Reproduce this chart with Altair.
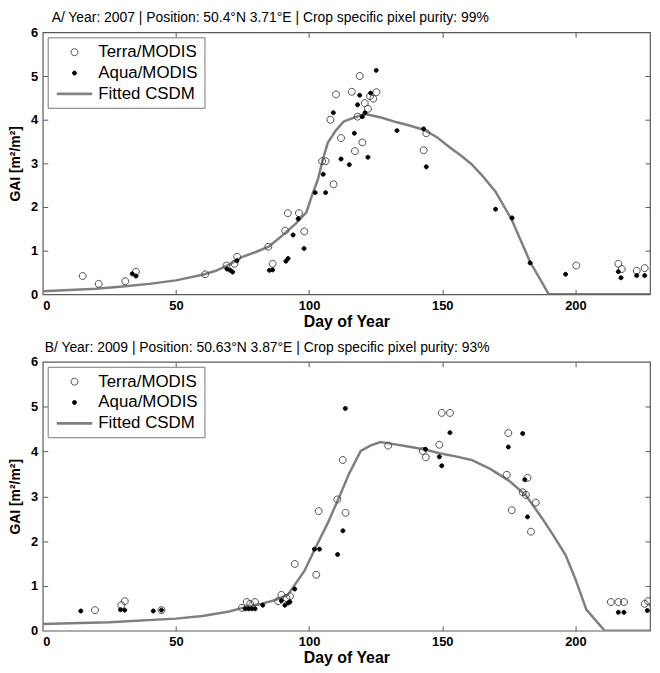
import altair as alt
import pandas as pd

SERIES = ["Terra/MODIS", "Aqua/MODIS", "Fitted CSDM"]

# ---------------- Panel A (2007) ----------------
a_title = "A/  Year: 2007 | Position: 50.4°N 3.71°E | Crop specific pixel purity: 99%"
a_terra_day = [15, 21, 31, 35, 61, 69, 72, 73, 84.7, 86.3,
               91, 92, 96.2, 98.2, 104.9, 106.2, 108, 109.2, 110.1, 112,
               116, 117.2, 118.2, 119, 120, 120.9, 122.1, 122.9, 124.1, 125.3,
               143, 144, 200.3, 216.1, 217.4, 223, 226]
a_terra_gai = [0.42, 0.24, 0.30, 0.52, 0.46, 0.66, 0.70, 0.86, 1.09, 0.70,
               1.46, 1.86, 1.86, 1.44, 3.05, 3.05, 4.0, 2.52, 4.58, 3.58,
               4.64, 3.28, 4.07, 5.0, 3.48, 4.38, 4.25, 4.54, 4.48, 4.63,
               3.30, 3.69, 0.66, 0.70, 0.58, 0.54, 0.60]
a_aqua_day = [33.6, 35.0, 69.2, 70.4, 71.3, 72.9, 85.1, 86.3, 91.3, 92.1,
              94, 95.9, 98.1, 102.3, 105.3, 106.2, 109.1, 112, 115.1, 117,
              118.2, 119, 120, 121, 122.1, 123.1, 125.2, 133, 143, 144,
              170, 176.2, 183, 196.3, 216.1, 217.1, 223, 226]
a_aqua_gai = [0.47, 0.42, 0.58, 0.55, 0.51, 0.77, 0.55, 0.56, 0.76, 0.82,
              1.36, 1.73, 1.05, 2.33, 2.75, 2.33, 4.16, 3.10, 2.97, 3.69,
              4.34, 4.56, 4.07, 4.16, 3.14, 4.61, 5.13, 3.75, 3.79, 2.92,
              1.95, 1.75, 0.72, 0.46, 0.52, 0.38, 0.43, 0.43]
a_fit_day = [0, 10, 20, 30, 40, 50, 60, 65, 70, 75,
             80, 85, 90, 95, 99, 101, 103.3, 105, 107, 110,
             113, 117, 121, 127, 133, 138, 143, 148, 153, 157,
             161, 165, 170, 176, 183, 190, 230]
a_fit_gai = [0.07, 0.10, 0.13, 0.18, 0.24, 0.32, 0.45, 0.54, 0.68, 0.86,
             0.97, 1.10, 1.35, 1.62, 1.88, 2.25, 2.63, 3.05, 3.47, 3.75,
             3.96, 4.05, 4.13, 4.05, 3.94, 3.86, 3.77, 3.60, 3.36, 3.18,
             2.98, 2.72, 2.35, 1.72, 0.74, 0.0, 0.0]

# ---------------- Panel B (2009) ----------------
b_title = "B/ Year: 2009 | Position: 50.63°N 3.87°E | Crop specific pixel purity: 93%"
b_terra_day = [19.6, 29.5, 30.8, 44.6, 74.8, 76.6, 77.9, 79.7, 88.4, 89.6,
               91.5, 92.8, 94.6, 102.7, 103.6, 110.6, 112.6, 113.7, 129.7, 142.7,
               143.8, 148.9, 149.8, 152.9, 174.2, 174.8, 176.1, 180.2, 181.4, 182,
               183.3, 185.1, 213.3, 216.1, 218.2, 226, 227.3, 229.1]
b_terra_gai = [0.46, 0.57, 0.66, 0.46, 0.51, 0.64, 0.60, 0.64, 0.66, 0.80,
               0.73, 0.77, 1.49, 1.25, 2.67, 2.93, 3.81, 2.63, 4.13, 4.01,
               3.87, 4.15, 4.86, 4.86, 3.48, 4.41, 2.69, 3.09, 3.03, 3.41,
               2.21, 2.86, 0.64, 0.64, 0.64, 0.60, 0.66, 0.58]
b_aqua_day = [14.3, 29.2, 30.8, 41.5, 44.6, 76, 77.3, 78.5, 79.7, 82.6,
              89.6, 90.9, 92.1, 92.8, 94.6, 102, 103.9, 110.7, 112.7, 113.6,
              143.7, 148.9, 149.8, 152.9, 174.8, 180.2, 181, 182,
              216.1, 218.2, 227]
b_aqua_gai = [0.44, 0.47, 0.46, 0.44, 0.46, 0.49, 0.49, 0.49, 0.49, 0.57,
              0.67, 0.57, 0.62, 0.64, 0.93, 1.82, 1.82, 1.70, 2.23, 4.96,
              4.05, 3.88, 3.68, 4.42, 4.10, 4.40, 3.37, 2.54,
              0.41, 0.41, 0.45]
b_fit_day = [0, 25, 50, 60, 70, 75, 82, 87, 92, 98.3,
             102, 107, 111, 115, 119.4, 123, 126.8, 130, 136, 143,
             149, 155, 161, 168, 175, 181.4, 187.6, 192, 196.3, 200,
             204.1, 211, 230]
b_fit_gai = [0.15, 0.19, 0.27, 0.33, 0.43, 0.51, 0.60, 0.68, 0.80, 1.34,
             1.80, 2.40, 2.94, 3.50, 4.01, 4.13, 4.21, 4.18, 4.12, 4.05,
             3.96, 3.89, 3.81, 3.61, 3.35, 3.02, 2.50, 2.10, 1.69, 1.15,
             0.47, 0.0, 0.0]

x_ticks = [0, 50, 100, 150, 200]
y_ticks = [0, 1, 2, 3, 4, 5, 6]

FRAME = "#5a5a5a"
LINE_GRAY = "#7f7f7f"
FONT = "Liberation Sans"
SYM = 289  # 17 px symbol box; glyph paths below are scaled inside it


def circle_path(r):
    return f"M{r},0A{r},{r},0,1,1,{-r},0A{r},{r},0,1,1,{r},0Z"


SHAPES = [circle_path(0.41), circle_path(0.235), "M-2.06,-0.1H2.06V0.1H-2.06Z"]
STROKES = ["#4d4d4d", "#000000", LINE_GRAY]
FILLS = ["transparent", "#000000", LINE_GRAY]


def panel(title, tdx, t_day, t_gai, q_day, q_gai, f_day, f_gai, height):
    pts_t = pd.DataFrame({"day": t_day, "gai": t_gai, "series": SERIES[0]})
    pts_q = pd.DataFrame({"day": q_day, "gai": q_gai, "series": SERIES[1]})
    fit = pd.DataFrame({"day": f_day, "gai": f_gai})

    xs = alt.Scale(domain=[0, 228], nice=False, zero=False)
    ys = alt.Scale(domain=[0, 6], nice=False, zero=False)

    stroke = alt.Stroke("series:N", scale=alt.Scale(domain=SERIES, range=STROKES),
                        legend=alt.Legend(title=None))
    fill = alt.Fill("series:N", scale=alt.Scale(domain=SERIES, range=FILLS),
                    legend=alt.Legend(title=None))
    shape = alt.Shape("series:N", scale=alt.Scale(domain=SERIES, range=SHAPES),
                      legend=alt.Legend(title=None))

    x_main = alt.Axis(title="Day of Year", values=x_ticks, tickSize=0, domain=False, grid=False,
                      labelFont=FONT, labelFontWeight="bold", labelFontSize=13, labelPadding=5,
                      labelColor="black", titleFont=FONT, titleFontWeight="bold", titleFontSize=16,
                      titlePadding=1, titleColor="black")
    y_main = alt.Axis(title="GAI [m²/m²]", values=y_ticks, tickSize=0, domain=False, grid=False,
                      labelFont=FONT, labelFontWeight="bold", labelFontSize=13, labelPadding=5,
                      labelColor="black", titleFont=FONT, titleFontWeight="bold", titleFontSize=14,
                      titlePadding=8, titleColor="black")

    def tick_axis(orient, vals):
        return alt.Axis(orient=orient, values=vals, labels=False, title=None, domain=False, grid=False,
                        tickSize=5, offset=-5, tickColor=FRAME, tickWidth=1)

    line = alt.Chart(fit).mark_line(clip=True, color=LINE_GRAY, strokeWidth=2.5).encode(
        x=alt.X("day:Q", scale=xs, axis=x_main),
        y=alt.Y("gai:Q", scale=ys, axis=y_main),
    )
    terra = alt.Chart(pts_t).mark_point(clip=True, filled=False, opacity=1, size=SYM, strokeWidth=1).encode(
        x=alt.X("day:Q", scale=xs, axis=tick_axis("top", [50, 100, 150, 200])),
        y=alt.Y("gai:Q", scale=ys, axis=tick_axis("right", [1, 2, 3, 4, 5])),
        stroke=stroke, fill=fill, shape=shape,
    )
    aqua = alt.Chart(pts_q).mark_point(clip=True, filled=False, opacity=1, size=SYM, strokeWidth=1).encode(
        x=alt.X("day:Q", scale=xs, axis=tick_axis("bottom", [50, 100, 150, 200])),
        y=alt.Y("gai:Q", scale=ys, axis=tick_axis("left", [1, 2, 3, 4, 5])),
        stroke=stroke, fill=fill, shape=shape,
    )
    return alt.layer(line, terra, aqua).resolve_axis(x="independent", y="independent").properties(
        width=612, height=height,
        title=alt.TitleParams(title, anchor="start", frame="group", dx=tdx, font=FONT, fontSize=14,
                              fontWeight="normal", color="black", offset=1),
    )


pa = panel(a_title, 9, a_terra_day, a_terra_gai, a_aqua_day, a_aqua_gai, a_fit_day, a_fit_gai, 264)
pb = panel(b_title, 2, b_terra_day, b_terra_gai, b_aqua_day, b_aqua_gai, b_fit_day, b_fit_gai, 271)

chart = alt.vconcat(pa, pb, spacing=10, padding=0).resolve_scale(
    x="independent", y="independent", stroke="independent", fill="independent", shape="independent",
).resolve_legend(
    stroke="independent", fill="independent", shape="independent",
).configure_view(
    stroke=FRAME, strokeWidth=1.2,
).configure_legend(
    orient="top-left", offset=5, padding=6, strokeColor="#777777", fillColor="white",
    labelFont=FONT, labelFontSize=17, labelColor="black", rowPadding=4, labelLimit=300,
    labelOffset=15, symbolOffset=12, symbolSize=SYM, symbolStrokeWidth=1,
)

chart.save("out.html", embed_options={"renderer": "svg", "actions": False})
